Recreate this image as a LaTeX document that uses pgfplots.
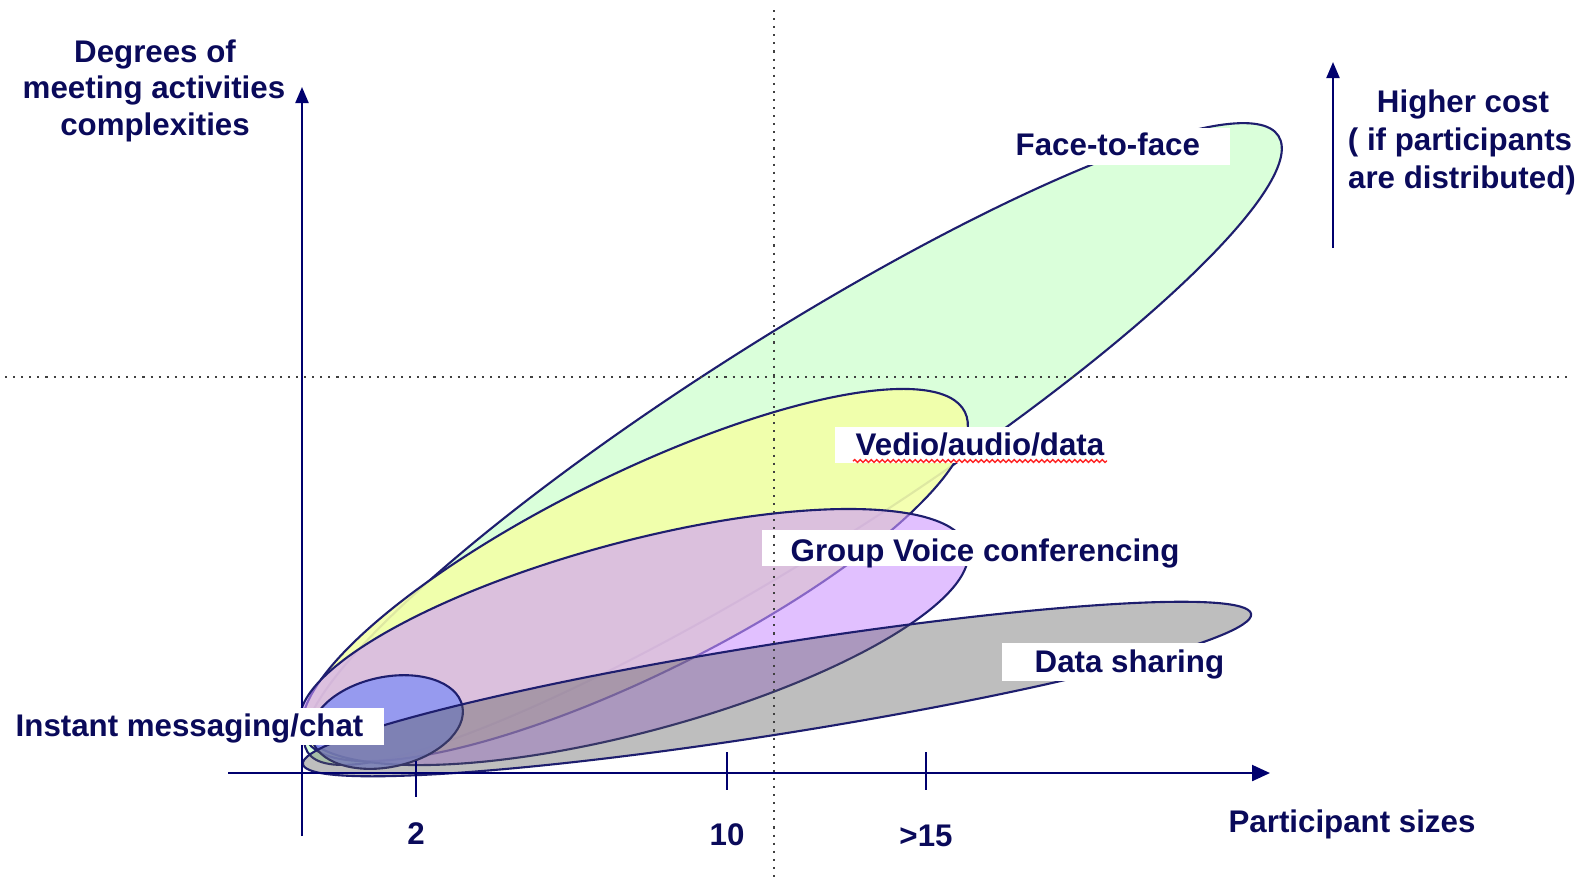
\documentclass[border=0pt]{standalone}
\usepackage{fontspec}
\setmainfont{Liberation Sans}
\usepackage{pgfplots}
\pgfplotsset{compat=1.18}
\usetikzlibrary{arrows.meta,decorations.pathmorphing}
\definecolor{navy}{RGB}{10,10,90}
\definecolor{edge}{RGB}{30,30,110}
\definecolor{axln}{RGB}{0,0,110}
\definecolor{fgreen}{RGB}{218,255,218}
\definecolor{fyellow}{RGB}{243,255,168}
\definecolor{fpurple}{RGB}{205,150,255}
\definecolor{fgray}{RGB}{92,92,92}
\definecolor{fblue}{RGB}{138,148,243}
\tikzset{lbl/.style={font=\fontsize{8.9}{10.4}\selectfont\bfseries, text=navy, inner sep=0pt}}
\begin{document}
\begin{tikzpicture}
\begin{axis}[
  width=15.85cm, height=8.84cm, scale only axis,
  xmin=0, xmax=1585, ymin=0, ymax=884, y dir=reverse,
  hide axis, clip=false,
]
\path (axis cs:0,0) rectangle (axis cs:1585,884);

% ellipses (centre in px, radii in cm, rotation in degrees)
\draw[edge, line width=0.6pt, fill=fgreen] (axis cs:793,444) ellipse [x radius=5.75cm, y radius=1.06cm, rotate=32.4];
\draw[edge, line width=0.6pt, fill=fyellow, fill opacity=0.9] (axis cs:635,575) ellipse [x radius=3.68cm, y radius=1.0cm, rotate=26.3];
\draw[edge, line width=0.6pt, fill=fpurple, fill opacity=0.6] (axis cs:634,637) ellipse [x radius=3.45cm, y radius=0.95cm, rotate=15];
\draw[edge, line width=0.6pt, fill=fblue, fill opacity=0.85] (axis cs:387,722) ellipse [x radius=0.77cm, y radius=0.45cm, rotate=12];
\draw[edge, line width=0.6pt, fill=fgray, fill opacity=0.4] (axis cs:777,689) ellipse [x radius=4.80cm, y radius=0.45cm, rotate=9];

% axes
\addplot[axln, line width=0.6pt, -{Triangle[length=0.16cm,width=0.13cm]}] coordinates {(302,836) (302,87)};
\addplot[axln, line width=0.6pt, -{Triangle[length=0.18cm,width=0.16cm]}] coordinates {(228,773) (1270,773)};
\addplot[axln, line width=0.6pt, -{Triangle[length=0.16cm,width=0.13cm]}] coordinates {(1333,248) (1333,62)};
\addplot[axln, line width=0.6pt] coordinates {(416,761) (416,797)};
\addplot[axln, line width=0.6pt] coordinates {(727,752) (727,790)};
\addplot[axln, line width=0.6pt] coordinates {(926,752) (926,790)};

% label boxes
\fill[white] (axis cs:1011,128) rectangle (axis cs:1230,165);
\fill[white] (axis cs:835,427) rectangle (axis cs:1107,463);
\fill[white] (axis cs:762,530) rectangle (axis cs:1181,566);
\fill[white] (axis cs:1002,643) rectangle (axis cs:1223,681);
\fill[white] (axis cs:5,708) rectangle (axis cs:384,745);

\node[lbl, anchor=base west] at (axis cs:1015,155) {Face-to-face};
\node[lbl, anchor=base west] at (axis cs:855,455) {Vedio/audio/data};
\draw[red!85!white, line width=0.4pt, decorate, decoration={snake, segment length=0.055cm, amplitude=0.014cm}] (axis cs:853,461) -- (axis cs:1107,461);
\node[lbl, anchor=base west] at (axis cs:790,561) {Group Voice conferencing};
\node[lbl, anchor=base west] at (axis cs:1034,672) {Data sharing};
\node[lbl, anchor=base west] at (axis cs:15,736) {Instant messaging/chat};

\node[lbl, anchor=base] at (axis cs:155,62) {Degrees of};
\node[lbl, anchor=base] at (axis cs:154,98) {meeting activities};
\node[lbl, anchor=base] at (axis cs:155,135) {complexities};
\node[lbl, anchor=base] at (axis cs:1463,112) {Higher cost};
\node[lbl, anchor=base] at (axis cs:1460,150) {( if participants};
\node[lbl, anchor=base] at (axis cs:1462,188) {are distributed)};
\node[lbl, anchor=base] at (axis cs:1352,832) {Participant sizes};
\node[lbl, anchor=base] at (axis cs:416,844) {2};
\node[lbl, anchor=base] at (axis cs:727,845) {10};
\node[lbl, anchor=base] at (axis cs:926,846) {>15};

% dotted guide lines
\addplot[black!75, line width=0.6pt, dash pattern=on 0.6pt off 1.7pt] coordinates {(774,10) (774,878)};
\addplot[black!75, line width=0.6pt, dash pattern=on 0.6pt off 1.7pt] coordinates {(5,377) (1572,377)};
\end{axis}
\end{tikzpicture}
\end{document}
